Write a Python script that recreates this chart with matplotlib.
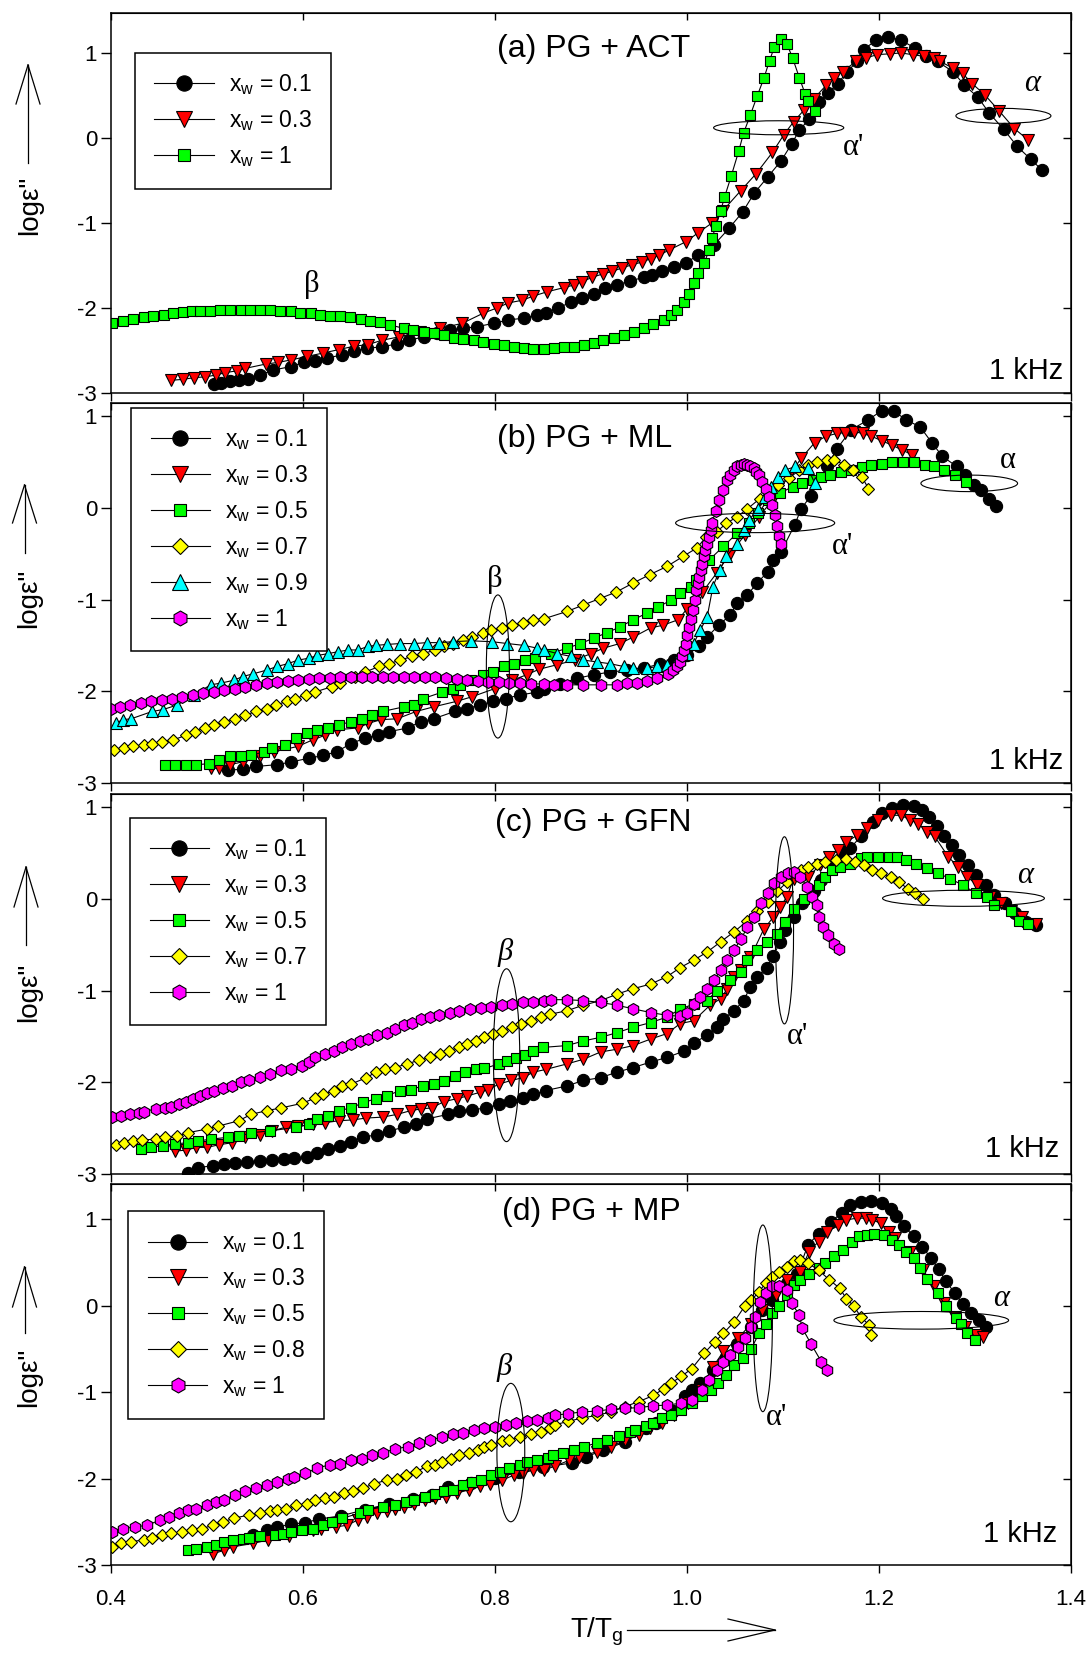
import matplotlib
matplotlib.use("Agg")
import matplotlib.pyplot as plt
from matplotlib.patches import Ellipse
from matplotlib.lines import Line2D

plt.rcParams["font.family"] = ["Liberation Sans", "DejaVu Sans"]
plt.rcParams["mathtext.default"] = "regular"
plt.rcParams["axes.unicode_minus"] = False

# ---------------- (a) PG + ACT ----------------
act_01_x = [0.507, 0.515, 0.524, 0.533, 0.543, 0.555, 0.569, 0.587, 0.601, 0.613, 0.625, 0.641, 0.653, 0.667, 0.682,
            0.698, 0.710, 0.726, 0.740, 0.753, 0.767, 0.781, 0.799, 0.814, 0.830, 0.844, 0.853, 0.866, 0.879, 0.891,
            0.903, 0.915, 0.927, 0.941, 0.955, 0.964, 0.974, 0.986, 0.999, 1.011, 1.028, 1.044, 1.058, 1.070, 1.084,
            1.098, 1.109, 1.117, 1.127, 1.138, 1.147, 1.157, 1.167, 1.177, 1.184, 1.197, 1.209, 1.223, 1.237, 1.249,
            1.261, 1.277, 1.289, 1.303, 1.315, 1.330, 1.344, 1.358, 1.370]
act_01_y = [-2.89, -2.88, -2.86, -2.85, -2.83, -2.79, -2.73, -2.69, -2.64, -2.62, -2.59, -2.55, -2.51, -2.47, -2.46,
            -2.42, -2.38, -2.34, -2.29, -2.26, -2.24, -2.22, -2.18, -2.14, -2.12, -2.08, -2.06, -2.00, -1.93, -1.88,
            -1.83, -1.77, -1.73, -1.68, -1.64, -1.61, -1.57, -1.52, -1.47, -1.38, -1.26, -1.06, -0.87, -0.65, -0.46,
            -0.27, -0.07, 0.09, 0.22, 0.42, 0.53, 0.64, 0.78, 0.90, 1.04, 1.15, 1.19, 1.15, 1.06, 0.96,
            0.90, 0.78, 0.62, 0.48, 0.29, 0.10, -0.10, -0.25, -0.38]

act_03_x = [0.463, 0.475, 0.486, 0.498, 0.509, 0.519, 0.531, 0.540, 0.561, 0.574, 0.588, 0.604, 0.621, 0.637, 0.653,
            0.668, 0.682, 0.700, 0.722, 0.743, 0.766, 0.788, 0.802, 0.814, 0.828, 0.840, 0.854, 0.872, 0.882, 0.891,
            0.901, 0.912, 0.922, 0.932, 0.943, 0.953, 0.962, 0.971, 0.981, 0.999, 1.011, 1.026, 1.037, 1.056, 1.072,
            1.089, 1.101, 1.111, 1.122, 1.132, 1.145, 1.153, 1.162, 1.176, 1.186, 1.198, 1.211, 1.223, 1.235, 1.247,
            1.257, 1.264, 1.277, 1.287, 1.297, 1.310, 1.325, 1.341, 1.355]
act_03_y = [-2.85, -2.84, -2.82, -2.81, -2.79, -2.76, -2.74, -2.71, -2.66, -2.64, -2.61, -2.57, -2.53, -2.49, -2.45,
            -2.43, -2.38, -2.34, -2.28, -2.24, -2.18, -2.06, -2.00, -1.94, -1.91, -1.86, -1.81, -1.76, -1.73, -1.69,
            -1.64, -1.60, -1.57, -1.53, -1.49, -1.46, -1.42, -1.38, -1.32, -1.22, -1.12, -1.00, -0.86, -0.62, -0.42,
            -0.17, 0.04, 0.19, 0.33, 0.46, 0.62, 0.70, 0.78, 0.90, 0.94, 0.98, 0.99, 1.00, 0.98, 0.96,
            0.94, 0.90, 0.82, 0.76, 0.64, 0.51, 0.32, 0.11, -0.02]

act_1_x = [0.401, 0.413, 0.423, 0.434, 0.444, 0.455, 0.465, 0.475, 0.484, 0.493, 0.503, 0.514, 0.524, 0.535, 0.545,
           0.555, 0.566, 0.576, 0.587, 0.597, 0.608, 0.618, 0.628, 0.639, 0.649, 0.660, 0.670, 0.680, 0.691, 0.705,
           0.715, 0.726, 0.736, 0.747, 0.757, 0.767, 0.778, 0.788, 0.799, 0.809, 0.820, 0.830, 0.840, 0.851, 0.861,
           0.872, 0.882, 0.893, 0.903, 0.913, 0.924, 0.934, 0.945, 0.955, 0.965, 0.976, 0.983, 0.990, 0.997, 1.002,
           1.007, 1.011, 1.018, 1.023, 1.026, 1.030, 1.035, 1.039, 1.046, 1.054, 1.059, 1.066, 1.073, 1.080, 1.086,
           1.091, 1.098, 1.104, 1.110, 1.117, 1.123, 1.126, 1.133]
act_1_y = [-2.18, -2.15, -2.13, -2.11, -2.09, -2.08, -2.06, -2.05, -2.04, -2.04, -2.03, -2.02, -2.02, -2.02, -2.02,
           -2.02, -2.02, -2.03, -2.04, -2.06, -2.06, -2.08, -2.09, -2.10, -2.11, -2.13, -2.15, -2.17, -2.20, -2.24,
           -2.26, -2.28, -2.30, -2.32, -2.35, -2.37, -2.38, -2.40, -2.42, -2.44, -2.46, -2.47, -2.48, -2.48, -2.47,
           -2.46, -2.46, -2.44, -2.41, -2.38, -2.35, -2.32, -2.28, -2.24, -2.19, -2.14, -2.08, -2.02, -1.93, -1.83,
           -1.71, -1.59, -1.47, -1.32, -1.18, -1.04, -0.86, -0.70, -0.45, -0.15, 0.06, 0.27, 0.49, 0.70, 0.91,
           1.07, 1.17, 1.11, 0.94, 0.71, 0.52, 0.44, 0.32]

# ---------------- (b) PG + ML ----------------
ml_01_x = [0.522, 0.537, 0.551, 0.573, 0.588, 0.606, 0.621, 0.635, 0.650, 0.665, 0.678, 0.690, 0.709, 0.723, 0.736,
           0.758, 0.771, 0.784, 0.798, 0.811, 0.826, 0.844, 0.851, 0.868, 0.885, 0.903, 0.920, 0.938, 0.955, 0.972,
           0.986, 1.000, 1.012, 1.021, 1.033, 1.045, 1.052, 1.063, 1.073, 1.084, 1.090, 1.098, 1.112, 1.119, 1.129,
           1.146, 1.156, 1.171, 1.189, 1.203, 1.216, 1.228, 1.243, 1.255, 1.266, 1.281, 1.290, 1.299, 1.306, 1.315,
           1.322]
ml_01_y = [-2.86, -2.85, -2.82, -2.80, -2.77, -2.73, -2.70, -2.66, -2.57, -2.51, -2.48, -2.44, -2.40, -2.33, -2.30,
           -2.22, -2.19, -2.15, -2.11, -2.08, -2.04, -2.01, -1.98, -1.92, -1.86, -1.82, -1.79, -1.77, -1.75, -1.70,
           -1.66, -1.61, -1.51, -1.41, -1.28, -1.17, -1.04, -0.95, -0.82, -0.70, -0.57, -0.48, -0.19, -0.01, 0.13,
           0.45, 0.64, 0.85, 0.96, 1.06, 1.05, 0.96, 0.88, 0.71, 0.56, 0.45, 0.36, 0.25, 0.19, 0.10,
           0.02]

ml_03_x = [0.504, 0.513, 0.524, 0.537, 0.555, 0.570, 0.595, 0.610, 0.623, 0.635, 0.657, 0.668, 0.681, 0.698, 0.718,
           0.736, 0.760, 0.776, 0.800, 0.818, 0.833, 0.846, 0.865, 0.883, 0.900, 0.913, 0.930, 0.944, 0.962, 0.975,
           0.991, 1.000, 1.016, 1.031, 1.045, 1.060, 1.075, 1.090, 1.105, 1.119, 1.133, 1.145, 1.156, 1.165, 1.174,
           1.183, 1.192, 1.203, 1.214, 1.224, 1.234]
ml_03_y = [-2.84, -2.84, -2.80, -2.77, -2.71, -2.66, -2.60, -2.53, -2.48, -2.42, -2.40, -2.35, -2.31, -2.30, -2.22,
           -2.17, -2.11, -2.06, -1.97, -1.88, -1.82, -1.76, -1.71, -1.66, -1.59, -1.53, -1.48, -1.41, -1.31, -1.28,
           -1.22, -1.10, -0.92, -0.71, -0.50, -0.30, -0.10, 0.10, 0.33, 0.54, 0.71, 0.78, 0.81, 0.82, 0.83,
           0.81, 0.78, 0.73, 0.68, 0.63, 0.58]

ml_05_x = [0.456, 0.467, 0.478, 0.489, 0.502, 0.513, 0.524, 0.535, 0.546, 0.559, 0.568, 0.581, 0.593, 0.604, 0.615,
           0.626, 0.637, 0.650, 0.661, 0.672, 0.683, 0.705, 0.716, 0.725, 0.745, 0.756, 0.764, 0.775, 0.787, 0.798,
           0.809, 0.820, 0.831, 0.842, 0.858, 0.875, 0.889, 0.903, 0.917, 0.930, 0.944, 0.958, 0.970, 0.983, 0.993,
           1.004, 1.009, 1.023, 1.038, 1.052, 1.065, 1.074, 1.084, 1.097, 1.110, 1.120, 1.131, 1.140, 1.149, 1.160,
           1.171, 1.182, 1.192, 1.203, 1.214, 1.225, 1.236, 1.248, 1.257, 1.268, 1.279, 1.291]
ml_05_y = [-2.80, -2.80, -2.80, -2.80, -2.79, -2.75, -2.71, -2.71, -2.70, -2.66, -2.62, -2.59, -2.51, -2.46, -2.42,
           -2.40, -2.37, -2.33, -2.30, -2.26, -2.22, -2.17, -2.15, -2.08, -2.01, -1.97, -1.93, -1.88, -1.82, -1.79,
           -1.73, -1.70, -1.66, -1.64, -1.59, -1.53, -1.48, -1.42, -1.36, -1.30, -1.22, -1.15, -1.08, -1.01, -0.93,
           -0.86, -0.79, -0.57, -0.42, -0.28, -0.17, -0.06, 0.08, 0.16, 0.23, 0.27, 0.30, 0.33, 0.36, 0.39,
           0.41, 0.44, 0.47, 0.48, 0.50, 0.50, 0.50, 0.47, 0.45, 0.41, 0.36, 0.28]

ml_07_x = [0.403, 0.414, 0.423, 0.434, 0.443, 0.453, 0.465, 0.478, 0.487, 0.498, 0.507, 0.518, 0.529, 0.540, 0.551,
           0.562, 0.572, 0.583, 0.592, 0.603, 0.612, 0.630, 0.639, 0.654, 0.665, 0.679, 0.690, 0.701, 0.714, 0.725,
           0.738, 0.747, 0.756, 0.767, 0.776, 0.787, 0.796, 0.807, 0.818, 0.829, 0.840, 0.851, 0.875, 0.892, 0.909,
           0.926, 0.944, 0.961, 0.979, 0.996, 1.010, 1.020, 1.031, 1.041, 1.052, 1.063, 1.076, 1.086, 1.095, 1.106,
           1.117, 1.126, 1.135, 1.146, 1.153, 1.164, 1.173, 1.182, 1.189]
ml_07_y = [-2.64, -2.62, -2.60, -2.59, -2.57, -2.55, -2.53, -2.48, -2.44, -2.40, -2.37, -2.33, -2.30, -2.26, -2.22,
           -2.19, -2.15, -2.11, -2.08, -2.04, -2.01, -1.95, -1.91, -1.84, -1.79, -1.73, -1.70, -1.66, -1.62, -1.59,
           -1.55, -1.51, -1.48, -1.44, -1.41, -1.37, -1.33, -1.31, -1.28, -1.26, -1.22, -1.21, -1.13, -1.06, -0.99,
           -0.92, -0.82, -0.73, -0.64, -0.53, -0.44, -0.32, -0.26, -0.17, -0.10, -0.01, 0.10, 0.18, 0.25, 0.32,
           0.41, 0.47, 0.50, 0.52, 0.52, 0.47, 0.41, 0.34, 0.21]

ml_09_x = [0.405, 0.412, 0.421, 0.443, 0.454, 0.469, 0.486, 0.504, 0.515, 0.528, 0.537, 0.548, 0.562, 0.573, 0.584,
           0.595, 0.606, 0.615, 0.626, 0.636, 0.647, 0.657, 0.668, 0.676, 0.687, 0.701, 0.716, 0.729, 0.742, 0.756,
           0.775, 0.797, 0.813, 0.830, 0.844, 0.851, 0.865, 0.879, 0.892, 0.906, 0.920, 0.934, 0.944, 0.958, 0.969,
           0.979, 0.990, 1.000, 1.007, 1.014, 1.021, 1.027, 1.034, 1.041, 1.052, 1.059, 1.065, 1.074, 1.081, 1.088,
           1.095, 1.102, 1.113, 1.126, 1.133]
ml_09_y = [-2.35, -2.31, -2.30, -2.22, -2.20, -2.15, -2.04, -1.93, -1.91, -1.88, -1.84, -1.81, -1.77, -1.73, -1.70,
           -1.66, -1.64, -1.61, -1.59, -1.57, -1.55, -1.55, -1.51, -1.50, -1.49, -1.48, -1.48, -1.47, -1.47, -1.46,
           -1.45, -1.46, -1.48, -1.50, -1.53, -1.55, -1.59, -1.62, -1.66, -1.68, -1.70, -1.73, -1.75, -1.75, -1.73,
           -1.71, -1.66, -1.59, -1.48, -1.33, -1.19, -0.86, -0.68, -0.53, -0.39, -0.24, -0.13, -0.01, 0.12, 0.23,
           0.34, 0.41, 0.45, 0.43, 0.27]

ml_1_x = [0.400, 0.409, 0.420, 0.431, 0.442, 0.453, 0.464, 0.474, 0.485, 0.496, 0.507, 0.518, 0.529, 0.540, 0.551,
          0.562, 0.573, 0.584, 0.595, 0.606, 0.617, 0.628, 0.639, 0.650, 0.661, 0.672, 0.683, 0.694, 0.705, 0.716,
          0.727, 0.738, 0.749, 0.760, 0.771, 0.782, 0.793, 0.804, 0.815, 0.826, 0.837, 0.851, 0.861, 0.875, 0.892,
          0.910, 0.927, 0.938, 0.948, 0.958, 0.969, 0.980, 0.985, 0.990, 0.993, 0.995, 0.997, 0.999, 1.000, 1.002,
          1.004, 1.006, 1.008, 1.009, 1.011, 1.013, 1.015, 1.016, 1.018, 1.019, 1.021, 1.023, 1.025, 1.026, 1.030,
          1.033, 1.037, 1.042, 1.045, 1.049, 1.052, 1.056, 1.059, 1.063, 1.066, 1.070, 1.072, 1.075, 1.078, 1.082,
          1.085, 1.089, 1.092, 1.094, 1.096, 1.098]
ml_1_y = [-2.19, -2.17, -2.15, -2.13, -2.11, -2.10, -2.08, -2.06, -2.04, -2.02, -2.01, -1.99, -1.97, -1.95, -1.93,
          -1.91, -1.90, -1.89, -1.88, -1.87, -1.86, -1.86, -1.85, -1.85, -1.84, -1.84, -1.84, -1.84, -1.84, -1.84,
          -1.85, -1.85, -1.86, -1.87, -1.88, -1.89, -1.90, -1.90, -1.91, -1.91, -1.92, -1.92, -1.93, -1.93, -1.93,
          -1.93, -1.93, -1.91, -1.91, -1.89, -1.86, -1.81, -1.77, -1.73, -1.68, -1.62, -1.55, -1.48, -1.39, -1.30,
          -1.21, -1.11, -1.01, -0.90, -0.82, -0.75, -0.68, -0.61, -0.53, -0.46, -0.39, -0.32, -0.24, -0.17, -0.03,
          0.08, 0.19, 0.30, 0.36, 0.41, 0.45, 0.47, 0.48, 0.47, 0.46, 0.43, 0.39, 0.36, 0.28, 0.21,
          0.12, 0.03, -0.08, -0.20, -0.31, -0.39]

# ---------------- (c) PG + GFN ----------------
gfn_01_x = [0.480, 0.491, 0.506, 0.518, 0.529, 0.542, 0.555, 0.568, 0.580, 0.591, 0.604, 0.615, 0.626, 0.639, 0.650,
            0.663, 0.677, 0.690, 0.705, 0.718, 0.729, 0.751, 0.763, 0.776, 0.791, 0.804, 0.816, 0.829, 0.840, 0.853,
            0.875, 0.892, 0.910, 0.927, 0.944, 0.962, 0.979, 0.997, 1.007, 1.021, 1.031, 1.038, 1.049, 1.059, 1.066,
            1.073, 1.083, 1.090, 1.097, 1.102, 1.111, 1.120, 1.132, 1.140, 1.152, 1.162, 1.170, 1.181, 1.194, 1.203,
            1.214, 1.225, 1.236, 1.245, 1.252, 1.260, 1.268, 1.276, 1.283, 1.293, 1.301, 1.311, 1.320, 1.331, 1.342,
            1.353, 1.364]
gfn_01_y = [-2.99, -2.93, -2.91, -2.89, -2.88, -2.87, -2.86, -2.85, -2.84, -2.83, -2.81, -2.77, -2.73, -2.69, -2.65,
            -2.60, -2.57, -2.53, -2.49, -2.45, -2.40, -2.35, -2.31, -2.30, -2.28, -2.24, -2.20, -2.17, -2.13, -2.09,
            -2.04, -1.98, -1.95, -1.89, -1.84, -1.78, -1.73, -1.66, -1.57, -1.49, -1.40, -1.31, -1.22, -1.11, -0.96,
            -0.85, -0.75, -0.62, -0.47, -0.34, -0.20, -0.05, 0.09, 0.20, 0.35, 0.51, 0.55, 0.68, 0.84, 0.93,
            0.99, 1.02, 1.01, 0.97, 0.89, 0.79, 0.68, 0.59, 0.48, 0.37, 0.26, 0.15, 0.04, -0.05, -0.16,
            -0.25, -0.29]

gfn_03_x = [0.467, 0.478, 0.489, 0.500, 0.513, 0.526, 0.540, 0.555, 0.568, 0.582, 0.595, 0.610, 0.623, 0.637, 0.652,
            0.666, 0.683, 0.698, 0.712, 0.723, 0.734, 0.747, 0.760, 0.771, 0.784, 0.793, 0.804, 0.817, 0.829, 0.840,
            0.853, 0.875, 0.892, 0.910, 0.927, 0.944, 0.962, 0.979, 0.993, 1.007, 1.024, 1.035, 1.042, 1.049, 1.056,
            1.066, 1.080, 1.090, 1.097, 1.104, 1.111, 1.126, 1.139, 1.148, 1.157, 1.166, 1.177, 1.188, 1.199, 1.212,
            1.223, 1.232, 1.241, 1.250, 1.258, 1.272, 1.282, 1.292, 1.302, 1.316, 1.327, 1.338, 1.349, 1.364]
gfn_03_y = [-2.75, -2.74, -2.71, -2.71, -2.68, -2.66, -2.60, -2.57, -2.53, -2.49, -2.48, -2.46, -2.44, -2.42, -2.41,
            -2.39, -2.38, -2.35, -2.31, -2.29, -2.28, -2.21, -2.18, -2.15, -2.11, -2.08, -2.02, -1.98, -1.95, -1.89,
            -1.86, -1.80, -1.75, -1.67, -1.64, -1.60, -1.53, -1.47, -1.36, -1.33, -1.16, -1.09, -0.98, -0.85, -0.78,
            -0.64, -0.33, -0.20, -0.09, 0.02, 0.22, 0.24, 0.37, 0.45, 0.53, 0.62, 0.69, 0.77, 0.86, 0.91,
            0.91, 0.86, 0.82, 0.73, 0.68, 0.46, 0.35, 0.24, 0.15, 0.02, -0.05, -0.13, -0.20, -0.27]

gfn_05_x = [0.431, 0.442, 0.454, 0.467, 0.480, 0.491, 0.504, 0.522, 0.533, 0.546, 0.566, 0.593, 0.606, 0.615, 0.626,
            0.637, 0.650, 0.663, 0.676, 0.687, 0.701, 0.712, 0.725, 0.736, 0.747, 0.758, 0.769, 0.780, 0.789, 0.804,
            0.813, 0.822, 0.831, 0.840, 0.850, 0.875, 0.892, 0.910, 0.927, 0.944, 0.962, 0.979, 0.993, 1.007, 1.021,
            1.031, 1.045, 1.056, 1.062, 1.073, 1.083, 1.094, 1.102, 1.111, 1.122, 1.137, 1.144, 1.151, 1.159, 1.170,
            1.181, 1.188, 1.199, 1.210, 1.219, 1.228, 1.239, 1.250, 1.261, 1.274, 1.287, 1.301, 1.313, 1.320, 1.337,
            1.346, 1.355]
gfn_05_y = [-2.73, -2.71, -2.69, -2.67, -2.66, -2.64, -2.62, -2.60, -2.59, -2.55, -2.53, -2.49, -2.46, -2.40, -2.37,
            -2.31, -2.28, -2.22, -2.18, -2.15, -2.09, -2.08, -2.04, -2.02, -1.99, -1.93, -1.89, -1.86, -1.85, -1.80,
            -1.77, -1.74, -1.70, -1.66, -1.62, -1.60, -1.55, -1.51, -1.46, -1.40, -1.35, -1.29, -1.20, -1.15, -1.11,
            -1.00, -0.89, -0.80, -0.67, -0.56, -0.47, -0.38, -0.25, -0.11, 0.00, 0.15, 0.24, 0.31, 0.35, 0.38,
            0.44, 0.45, 0.46, 0.46, 0.45, 0.42, 0.38, 0.33, 0.28, 0.22, 0.15, 0.06, 0.02, -0.07, -0.13,
            -0.24, -0.28]

gfn_07_x = [0.405, 0.414, 0.423, 0.432, 0.447, 0.456, 0.469, 0.480, 0.500, 0.511, 0.533, 0.546, 0.562, 0.577, 0.599,
            0.613, 0.621, 0.632, 0.641, 0.650, 0.666, 0.676, 0.685, 0.696, 0.708, 0.721, 0.732, 0.743, 0.752, 0.762,
            0.771, 0.780, 0.789, 0.798, 0.807, 0.818, 0.827, 0.837, 0.848, 0.857, 0.875, 0.892, 0.910, 0.927, 0.944,
            0.962, 0.979, 0.993, 1.007, 1.021, 1.035, 1.049, 1.063, 1.073, 1.084, 1.094, 1.104, 1.119, 1.126, 1.135,
            1.144, 1.155, 1.166, 1.175, 1.184, 1.193, 1.202, 1.212, 1.221, 1.230, 1.237, 1.246]
gfn_07_y = [-2.68, -2.66, -2.64, -2.63, -2.62, -2.60, -2.59, -2.55, -2.51, -2.48, -2.42, -2.35, -2.31, -2.28, -2.23,
            -2.17, -2.13, -2.09, -2.04, -2.02, -1.95, -1.89, -1.86, -1.84, -1.80, -1.76, -1.73, -1.69, -1.66, -1.62,
            -1.58, -1.55, -1.51, -1.47, -1.44, -1.40, -1.36, -1.33, -1.29, -1.26, -1.22, -1.16, -1.11, -1.04, -0.98,
            -0.93, -0.85, -0.75, -0.67, -0.58, -0.47, -0.36, -0.24, -0.13, -0.04, 0.08, 0.18, 0.31, 0.35, 0.38,
            0.40, 0.42, 0.43, 0.40, 0.37, 0.31, 0.28, 0.24, 0.18, 0.11, 0.06, 0.00]

gfn_1_x = [0.401, 0.410, 0.420, 0.429, 0.434, 0.447, 0.456, 0.463, 0.471, 0.478, 0.485, 0.493, 0.500, 0.507, 0.517,
           0.526, 0.535, 0.544, 0.555, 0.566, 0.577, 0.588, 0.599, 0.606, 0.613, 0.623, 0.632, 0.641, 0.650, 0.659,
           0.668, 0.677, 0.687, 0.696, 0.705, 0.714, 0.723, 0.732, 0.742, 0.753, 0.763, 0.774, 0.785, 0.796, 0.807,
           0.818, 0.829, 0.840, 0.851, 0.858, 0.875, 0.892, 0.910, 0.927, 0.944, 0.962, 0.979, 0.993, 1.000, 1.007,
           1.014, 1.021, 1.028, 1.035, 1.042, 1.049, 1.056, 1.063, 1.070, 1.077, 1.084, 1.091, 1.098, 1.105, 1.111,
           1.118, 1.125, 1.130, 1.135, 1.138, 1.142, 1.147, 1.153, 1.158]
gfn_1_y = [-2.38, -2.37, -2.35, -2.34, -2.32, -2.29, -2.28, -2.27, -2.24, -2.22, -2.18, -2.15, -2.12, -2.09, -2.06,
           -2.04, -2.00, -1.97, -1.94, -1.91, -1.87, -1.86, -1.82, -1.78, -1.73, -1.69, -1.66, -1.62, -1.58, -1.55,
           -1.53, -1.49, -1.46, -1.42, -1.38, -1.35, -1.31, -1.29, -1.27, -1.25, -1.22, -1.20, -1.19, -1.18, -1.16,
           -1.15, -1.13, -1.12, -1.11, -1.10, -1.10, -1.11, -1.13, -1.16, -1.20, -1.24, -1.27, -1.28, -1.24, -1.15,
           -1.07, -0.98, -0.89, -0.78, -0.67, -0.56, -0.44, -0.31, -0.20, -0.05, 0.06, 0.17, 0.24, 0.28, 0.29,
           0.24, 0.13, 0.02, -0.07, -0.20, -0.31, -0.40, -0.49, -0.55]

# ---------------- (d) PG + MP ----------------
mp_01_x = [0.548, 0.562, 0.573, 0.587, 0.602, 0.617, 0.640, 0.665, 0.690, 0.715, 0.734, 0.751, 0.775, 0.800, 0.825,
           0.850, 0.880, 0.895, 0.913, 0.935, 0.957, 0.968, 0.985, 0.998, 1.005, 1.014, 1.027, 1.041, 1.052, 1.067,
           1.078, 1.089, 1.104, 1.115, 1.126, 1.137, 1.150, 1.161, 1.170, 1.181, 1.192, 1.203, 1.212, 1.218, 1.226,
           1.236, 1.245, 1.254, 1.262, 1.270, 1.279, 1.287, 1.296, 1.304, 1.311]
mp_01_y = [-2.65, -2.60, -2.56, -2.53, -2.51, -2.47, -2.43, -2.36, -2.29, -2.24, -2.19, -2.10, -2.05, -1.99, -1.93,
           -1.87, -1.82, -1.75, -1.67, -1.58, -1.42, -1.36, -1.22, -1.05, -0.98, -0.90, -0.75, -0.59, -0.44, -0.25,
           -0.05, 0.06, 0.26, 0.37, 0.70, 0.83, 0.97, 1.07, 1.16, 1.20, 1.21, 1.18, 1.12, 1.03, 0.92,
           0.80, 0.68, 0.55, 0.42, 0.28, 0.14, 0.02, -0.09, -0.17, -0.25]

mp_03_x = [0.506, 0.518, 0.527, 0.548, 0.564, 0.585, 0.610, 0.619, 0.634, 0.646, 0.657, 0.667, 0.677, 0.687, 0.696,
           0.705, 0.716, 0.727, 0.738, 0.749, 0.760, 0.773, 0.784, 0.795, 0.807, 0.820, 0.829, 0.840, 0.851, 0.862,
           0.877, 0.888, 0.906, 0.921, 0.935, 0.950, 0.961, 0.974, 0.986, 1.001, 1.016, 1.027, 1.038, 1.053, 1.067,
           1.078, 1.093, 1.104, 1.118, 1.127, 1.137, 1.146, 1.157, 1.166, 1.177, 1.186, 1.193, 1.202, 1.210, 1.217,
           1.232, 1.246, 1.257, 1.268, 1.279, 1.290, 1.301, 1.308]
mp_03_y = [-2.87, -2.83, -2.79, -2.75, -2.71, -2.66, -2.60, -2.58, -2.56, -2.54, -2.48, -2.44, -2.40, -2.38, -2.35,
           -2.33, -2.29, -2.25, -2.23, -2.21, -2.17, -2.13, -2.09, -2.06, -2.02, -1.96, -1.94, -1.90, -1.90, -1.86,
           -1.79, -1.75, -1.69, -1.63, -1.56, -1.50, -1.42, -1.36, -1.27, -1.13, -0.98, -0.71, -0.53, -0.38, -0.21,
           -0.05, 0.12, 0.30, 0.39, 0.62, 0.74, 0.85, 0.93, 0.99, 1.01, 1.01, 0.99, 0.95, 0.85, 0.78,
           0.62, 0.41, 0.22, 0.03, -0.13, -0.25, -0.34, -0.36]

mp_05_x = [0.480, 0.489, 0.500, 0.509, 0.518, 0.527, 0.537, 0.544, 0.555, 0.571, 0.579, 0.588, 0.599, 0.610, 0.621,
           0.630, 0.641, 0.659, 0.668, 0.683, 0.696, 0.707, 0.716, 0.727, 0.738, 0.747, 0.756, 0.767, 0.776, 0.785,
           0.796, 0.805, 0.815, 0.826, 0.833, 0.844, 0.855, 0.860, 0.871, 0.882, 0.893, 0.906, 0.917, 0.929, 0.941,
           0.946, 0.957, 0.965, 0.974, 0.983, 0.994, 1.005, 1.016, 1.025, 1.032, 1.041, 1.049, 1.058, 1.067, 1.075,
           1.082, 1.089, 1.096, 1.104, 1.111, 1.118, 1.127, 1.137, 1.144, 1.153, 1.162, 1.172, 1.179, 1.188, 1.195,
           1.205, 1.214, 1.221, 1.228, 1.236, 1.243, 1.250, 1.261, 1.270, 1.280, 1.285, 1.292, 1.300]
mp_05_y = [-2.83, -2.81, -2.79, -2.77, -2.73, -2.71, -2.70, -2.69, -2.67, -2.65, -2.64, -2.62, -2.60, -2.58, -2.54,
           -2.50, -2.46, -2.40, -2.36, -2.33, -2.31, -2.27, -2.25, -2.21, -2.18, -2.15, -2.13, -2.08, -2.04, -2.02,
           -1.96, -1.92, -1.88, -1.84, -1.81, -1.79, -1.76, -1.73, -1.70, -1.67, -1.63, -1.59, -1.56, -1.51, -1.46,
           -1.44, -1.39, -1.36, -1.30, -1.27, -1.21, -1.13, -1.05, -0.98, -0.90, -0.80, -0.69, -0.61, -0.50, -0.32,
           -0.21, -0.09, -0.01, 0.12, 0.24, 0.30, 0.37, 0.43, 0.49, 0.57, 0.64, 0.74, 0.80, 0.82, 0.83,
           0.81, 0.76, 0.70, 0.62, 0.55, 0.43, 0.31, 0.14, -0.01, -0.15, -0.21, -0.32, -0.40]

mp_08_x = [0.401, 0.410, 0.421, 0.434, 0.443, 0.453, 0.463, 0.474, 0.484, 0.495, 0.506, 0.517, 0.528, 0.544, 0.555,
           0.566, 0.573, 0.582, 0.593, 0.604, 0.613, 0.623, 0.632, 0.643, 0.652, 0.663, 0.674, 0.687, 0.698, 0.707,
           0.718, 0.729, 0.738, 0.745, 0.754, 0.763, 0.773, 0.782, 0.789, 0.796, 0.807, 0.815, 0.826, 0.837, 0.848,
           0.857, 0.862, 0.876, 0.891, 0.906, 0.921, 0.935, 0.950, 0.965, 0.976, 0.983, 0.994, 1.005, 1.018, 1.029,
           1.038, 1.049, 1.060, 1.067, 1.075, 1.082, 1.089, 1.096, 1.104, 1.111, 1.118, 1.126, 1.137, 1.148, 1.159,
           1.166, 1.174, 1.181, 1.190, 1.192]
mp_08_y = [-2.79, -2.75, -2.73, -2.71, -2.69, -2.65, -2.63, -2.62, -2.60, -2.58, -2.54, -2.50, -2.46, -2.42, -2.40,
           -2.38, -2.36, -2.35, -2.31, -2.29, -2.25, -2.23, -2.21, -2.17, -2.15, -2.11, -2.06, -2.02, -2.00, -1.96,
           -1.92, -1.86, -1.84, -1.81, -1.77, -1.73, -1.71, -1.67, -1.63, -1.61, -1.57, -1.55, -1.52, -1.48, -1.46,
           -1.42, -1.38, -1.34, -1.30, -1.27, -1.23, -1.17, -1.11, -1.04, -0.96, -0.90, -0.82, -0.73, -0.55, -0.42,
           -0.32, -0.19, -0.01, 0.06, 0.16, 0.26, 0.33, 0.39, 0.45, 0.51, 0.53, 0.49, 0.41, 0.30, 0.20,
           0.08, -0.01, -0.13, -0.23, -0.34]

mp_1_x = [0.401, 0.412, 0.425, 0.438, 0.451, 0.460, 0.471, 0.480, 0.489, 0.500, 0.509, 0.518, 0.529, 0.540, 0.551,
          0.562, 0.573, 0.584, 0.591, 0.602, 0.615, 0.628, 0.639, 0.650, 0.661, 0.672, 0.683, 0.696, 0.709, 0.721,
          0.732, 0.745, 0.756, 0.767, 0.778, 0.789, 0.800, 0.811, 0.822, 0.833, 0.844, 0.855, 0.862, 0.876, 0.891,
          0.906, 0.921, 0.935, 0.950, 0.965, 0.979, 0.994, 1.005, 1.016, 1.023, 1.031, 1.038, 1.045, 1.053, 1.060,
          1.067, 1.071, 1.076, 1.082, 1.089, 1.096, 1.104, 1.109, 1.117, 1.120, 1.129, 1.140, 1.146]
mp_1_y = [-2.62, -2.58, -2.56, -2.54, -2.48, -2.44, -2.40, -2.36, -2.35, -2.31, -2.27, -2.25, -2.19, -2.15, -2.11,
          -2.08, -2.04, -2.00, -1.98, -1.94, -1.88, -1.84, -1.83, -1.79, -1.77, -1.73, -1.70, -1.66, -1.63, -1.59,
          -1.56, -1.52, -1.49, -1.47, -1.44, -1.42, -1.40, -1.38, -1.36, -1.34, -1.32, -1.30, -1.27, -1.25, -1.23,
          -1.22, -1.20, -1.19, -1.18, -1.16, -1.15, -1.13, -1.09, -0.98, -0.86, -0.75, -0.65, -0.57, -0.48, -0.38,
          -0.25, -0.13, 0.04, 0.14, 0.22, 0.22, 0.18, 0.03, -0.11, -0.26, -0.44, -0.65, -0.75]

# ---------------- styles ----------------
BLACK = dict(marker="o", mfc="#000000", ms=8.8)
RED = dict(marker="v", mfc="#ff0000", ms=8.8)
GREEN = dict(marker="s", mfc="#00ff00", ms=7.0)
YELLOW = dict(marker="D", mfc="#ffff00", ms=6.6)
CYAN = dict(marker="^", mfc="#00ffff", ms=8.8)
MAGENTA = dict(marker="h", mfc="#ff00ff", ms=8.6)

FIG_W, FIG_H = 1091, 1653


def fx(px):
    return px / FIG_W


def fy(py):
    return 1 - py / FIG_H


def label(v):
    return r"x$_{\mathregular{w}}$ = " + v


panels = [
    dict(rect=(13, 393), ylim=(-3, 1.47),
         series=[(act_01_x, act_01_y, BLACK, "0.1"), (act_03_x, act_03_y, RED, "0.3"),
                 (act_1_x, act_1_y, GREEN, "1")],
         title="(a) PG + ACT", title_pos=(0.5026, 0.905), legend_pos=(0.025, 0.895),
         khz_pos=(0.992, 0.059),
         ellipses=[((1.0955, 0.12), 0.1356, 0.165), ((1.3296, 0.26), 0.099, 0.176)],
         greek=[("β", 0.609, -1.72, "normal"), ("α'", 1.174, -0.11, "normal"), ("α", 1.359, 0.635, "italic")],
         ylab=(30, 205), arrow=(28, 163, 65, 39)),
    dict(rect=(403, 783), ylim=(-3, 1.142),
         series=[(ml_01_x, ml_01_y, BLACK, "0.1"), (ml_03_x, ml_03_y, RED, "0.3"),
                 (ml_05_x, ml_05_y, GREEN, "0.5"), (ml_07_x, ml_07_y, YELLOW, "0.7"),
                 (ml_09_x, ml_09_y, CYAN, "0.9"), (ml_1_x, ml_1_y, MAGENTA, "1")],
         title="(b) PG + ML", title_pos=(0.493, 0.905), legend_pos=(0.021, 0.987),
         khz_pos=(0.992, 0.059),
         ellipses=[((0.803, -1.73), 0.024, 1.56), ((1.071, -0.166), 0.1657, 0.21),
                   ((1.294, 0.266), 0.1007, 0.18)],
         greek=[("β", 0.800, -0.78, "normal"), ("α'", 1.162, -0.417, "normal"), ("α", 1.3345, 0.513, "normal")],
         ylab=(29, 598), arrow=(24.5, 553, 485, 38)),
    dict(rect=(794, 1174), ylim=(-3, 1.142),
         series=[(gfn_01_x, gfn_01_y, BLACK, "0.1"), (gfn_03_x, gfn_03_y, RED, "0.3"),
                 (gfn_05_x, gfn_05_y, GREEN, "0.5"), (gfn_07_x, gfn_07_y, YELLOW, "0.7"),
                 (gfn_1_x, gfn_1_y, MAGENTA, "1")],
         title="(c) PG + GFN", title_pos=(0.502, 0.924), legend_pos=(0.020, 0.937),
         khz_pos=(0.9875, 0.066),
         ellipses=[((0.812, -1.705), 0.0275, 1.884), ((1.1015, -0.344), 0.019, 2.04),
                   ((1.288, 0.005), 0.1686, 0.175)],
         greek=[("β", 0.811, -0.581, "italic"), ("α'", 1.1155, -1.503, "normal"), ("α", 1.352, 0.257, "italic")],
         ylab=(29, 992), arrow=(26, 945, 867, 40)),
    dict(rect=(1184, 1565), ylim=(-3, 1.405),
         series=[(mp_01_x, mp_01_y, BLACK, "0.1"), (mp_03_x, mp_03_y, RED, "0.3"),
                 (mp_05_x, mp_05_y, GREEN, "0.5"), (mp_08_x, mp_08_y, YELLOW, "0.8"),
                 (mp_1_x, mp_1_y, MAGENTA, "1")],
         title="(d) PG + MP", title_pos=(0.5, 0.927), legend_pos=(0.018, 0.929),
         khz_pos=(0.986, 0.081),
         ellipses=[((0.8165, -1.70), 0.029, 1.60), ((1.079, -0.148), 0.020, 2.158),
                   ((1.244, -0.171), 0.182, 0.204)],
         greek=[("β", 0.810, -0.715, "italic"), ("α'", 1.0935, -1.293, "normal"), ("α", 1.327, 0.083, "italic")],
         ylab=(29, 1377), arrow=(24.5, 1333, 1267, 40)),
]

fig = plt.figure(figsize=(FIG_W / 100, FIG_H / 100), dpi=100)


def fig_arrow(x0, y0, x1, y1, head, half):
    """Open arrow head drawn as plain lines, coordinates in figure pixels."""
    dx, dy = x1 - x0, y1 - y0
    n = (dx * dx + dy * dy) ** 0.5
    ux, uy = dx / n, dy / n
    bx, by = x1 - ux * head, y1 - uy * head
    px, py = -uy * half, ux * half
    for xs, ys in [((x0, x1), (y0, y1)),
                   ((bx + px, x1), (by + py, y1)),
                   ((bx - px, x1), (by - py, y1))]:
        fig.add_artist(Line2D([fx(v) for v in xs], [fy(v) for v in ys], color="black", lw=0.9,
                              transform=fig.transFigure))


left, right = 111, 1071
for i, p in enumerate(panels):
    top, bottom = p["rect"]
    ax = fig.add_axes([fx(left), fy(bottom), (right - left) / FIG_W, (bottom - top) / FIG_H])
    for x, y, st, v in p["series"]:
        ax.plot(x, y, color="black", lw=0.8, mec="black", mew=0.8, label=label(v), **st)

    ax.set_xlim(0.4, 1.4)
    ax.set_ylim(*p["ylim"])
    ax.set_xticks([0.4, 0.6, 0.8, 1.0, 1.2, 1.4])
    ax.set_yticks([-3, -2, -1, 0, 1])
    ax.tick_params(axis="y", direction="out", length=7, width=1, labelsize=16, pad=3)
    ax.tick_params(axis="x", direction="out", length=6, width=1, labelsize=16, pad=11,
                   labelbottom=(i == len(panels) - 1))
    if i == len(panels) - 1:
        ax.set_xticklabels(["0.4", "0.6", "0.8", "1.0", "1.2", "1.4"])
    for s in ax.spines.values():
        s.set_linewidth(1.1)

    # inward ticks on the right and top edges
    sy = ax.secondary_yaxis("right")
    sy.set_yticks([-3, -2, -1, 0, 1])
    sy.tick_params(direction="in", length=6, width=1, labelright=False)
    sx = ax.secondary_xaxis("top")
    sx.set_xticks([0.4, 0.6, 0.8, 1.0, 1.2, 1.4])
    sx.tick_params(direction="in", length=5, width=1, labeltop=False)

    leg = ax.legend(loc="upper left", bbox_to_anchor=p["legend_pos"], borderaxespad=0,
                    fontsize=16.5, frameon=True, fancybox=False, framealpha=1, edgecolor="black",
                    handlelength=2.6, handletextpad=0.65, labelspacing=0.48, borderpad=0.85,
                    markerscale=1.25)
    leg.get_frame().set_linewidth(1.1)

    ax.text(*p["title_pos"], p["title"], transform=ax.transAxes, ha="center", va="center", fontsize=23)
    ax.text(*p["khz_pos"], "1 kHz", transform=ax.transAxes, ha="right", va="center", fontsize=21)

    for (cx, cy), w, h in p["ellipses"]:
        ax.add_patch(Ellipse((cx, cy), w, h, fill=False, ec="black", lw=0.8, zorder=5))
    for txt, gx, gy, style in p["greek"]:
        ax.text(gx, gy, txt, ha="center", va="center", fontsize=22, fontstyle=style,
                family=["Liberation Serif", "DejaVu Serif"], zorder=6)

    lx, ly = p["ylab"]
    fig.text(fx(lx), fy(ly), 'logε"', rotation=90, ha="center", va="center", fontsize=20)
    axx, a0, a1, head = p["arrow"]
    fig_arrow(axx, a0, axx, a1, head, 12)

fig.text(fx(624), fy(1637), "T/T$_g$", ha="right", va="baseline", fontsize=20)
fig_arrow(627, 1630, 775, 1630, 47, 11)

fig.savefig("out.png", dpi=100)
